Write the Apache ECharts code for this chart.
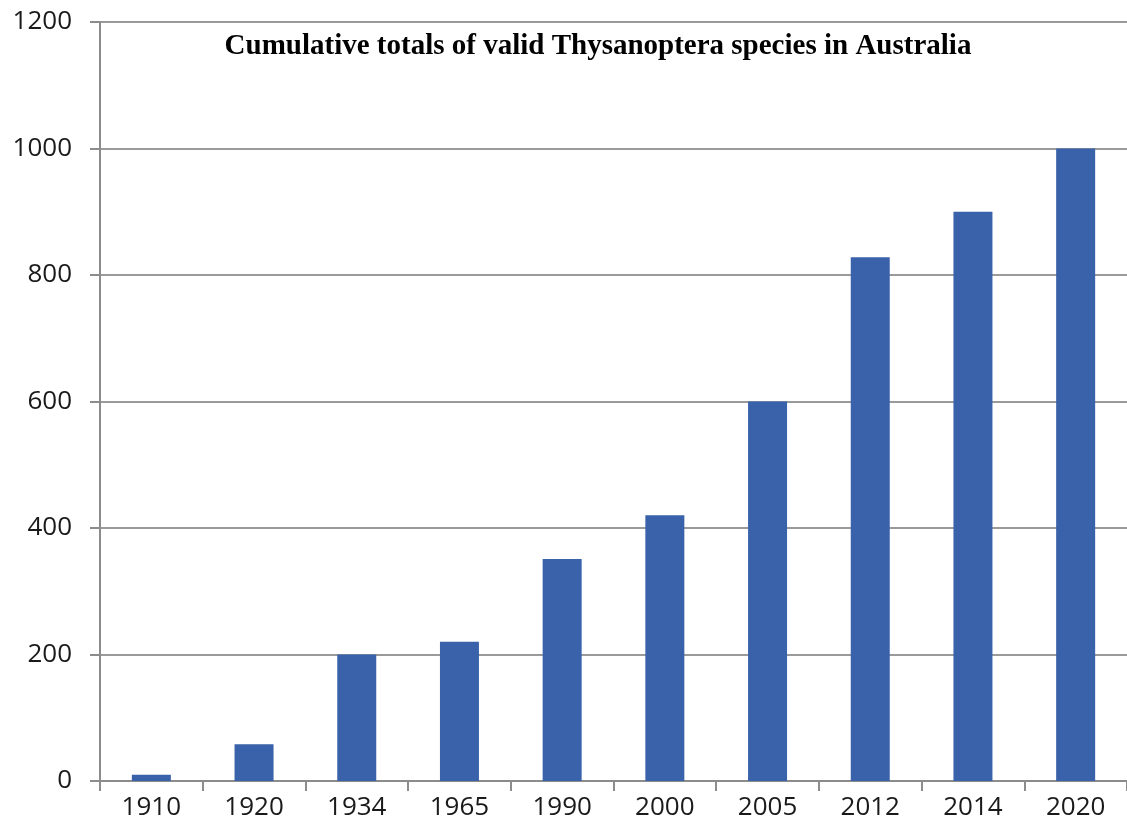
<!DOCTYPE html>
<html>
<head>
<meta charset="utf-8">
<script src="https://cdn.jsdelivr.net/npm/echarts@6/dist/echarts.min.js"></script>
<style>
html, body { margin: 0; padding: 0; background: #fff; }
#chart { width: 1127px; height: 836px; }
</style>
</head>
<body>
<div id="chart"></div>
<script>
const years = ['1910', '1920', '1934', '1965', '1990', '2000', '2005', '2012', '2014', '2020']
const totals = [10, 58, 200, 220, 351, 420, 600, 828, 900, 1000]
const yTicks = { min: 0, max: 1200, interval: 200 }

const chart = echarts.init(document.getElementById('chart'))

chart.setOption({
    backgroundColor: '#fff',
    animation: false,
    title: {
        text: 'Cumulative totals of valid Thysanoptera species in Australia',
        left: 593,
        top: 27,
        textAlign: 'center',
        textStyle: {
            fontFamily: 'Liberation Serif',
            fontWeight: 'bold',
            fontSize: 29,
            color: '#000'
        }
    },
    grid: { left: 100, right: 0, top: 22, bottom: 55 },
    xAxis: {
        type: 'category',
        data: years,
        axisLine: { lineStyle: { color: '#8c8c8c', width: 2 } },
        axisTick: { show: true, length: 10, lineStyle: { color: '#8c8c8c', width: 2 } },
        axisLabel: { fontFamily: 'Open Sans', fontSize: 26, color: '#1a1a1a', margin: 14 }
    },
    yAxis: {
        type: 'value',
        min: yTicks.min,
        max: yTicks.max,
        interval: yTicks.interval,
        axisLine: { show: true, lineStyle: { color: '#8c8c8c', width: 2 } },
        axisTick: { show: true, length: 10, lineStyle: { color: '#8c8c8c', width: 2 } },
        splitLine: { lineStyle: { color: '#9a9a9a', width: 2 } },
        axisLabel: {
            fontFamily: 'Open Sans', fontSize: 26, color: '#1a1a1a', margin: 28,
            formatter: v => String(v)
        }
    },
    series: [{
        type: 'bar',
        data: totals,
        barWidth: 39,
        itemStyle: { color: '#3a62aa' }
    }]
})
</script>
</body>
</html>
